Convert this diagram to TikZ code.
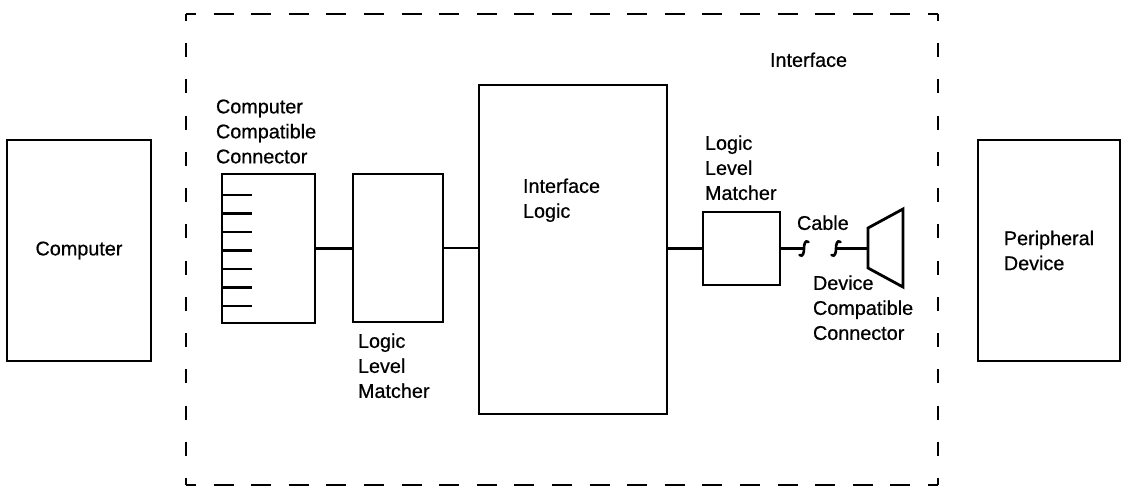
\documentclass[tikz,border=0pt]{standalone}
\usepackage{fontspec}
\setmainfont{Liberation Sans}
\newfontfamily\lblfont[FakeBold=0.6]{Liberation Sans}
\begin{document}
\begin{tikzpicture}[x=1pt,y=-1pt, line width=2.8pt, line join=miter,
  box/.style={draw, rectangle, inner sep=0pt, outer sep=0pt},
  lbl/.style={inner sep=0pt, outer sep=0pt, align=left, font=\lblfont\fontsize{19.8}{25}\selectfont},
  hdash/.style={dash pattern=on 20pt off 17.6pt, dash phase=10pt},
  vdash/.style={dash pattern=on 14pt off 22.23pt, dash phase=7pt},
  squig/.style={line width=2.6pt, line cap=round}]
\useasboundingbox (0,0) rectangle (1127,490);
% outer boxes
\node[box, lbl, minimum width=144pt, minimum height=221pt] (comp) at (79,250.5) {Computer};
\node[box, lbl, minimum width=142pt, minimum height=221pt] (periph) at (1049,250.5) {Peripheral\\Device};
% interface frame
\coordinate (fTL) at (186,14);
\coordinate (fTR) at (938,14);
\coordinate (fBL) at (186,485);
\coordinate (fBR) at (938,485);
\draw[hdash] (fTL) -- (fTR);
\draw[hdash] (fBL) -- (fBR);
\draw[vdash] (fTL) -- (fBL);
\draw[vdash] (fTR) -- (fBR);
\node[lbl, anchor=north west] (iflabel) at (770,52.5) {Interface};
% computer compatible connector
\node[box, minimum width=93pt, minimum height=149pt] (conn) at (268.5,248.5) {};
\foreach \k in {0,...,6} {
  \draw (conn.north west) ++(0,{21+18.5*\k}) -- ++(30,0);
}
\node[lbl, anchor=north west] (connlabel) at (216,99.5) {Computer\\Compatible\\Connector};
% logic level matcher 1
\node[box, minimum width=90pt, minimum height=148pt] (llm1) at (398,248) {};
\node[lbl, anchor=north west] (llm1label) at (358,333.5) {Logic\\Level\\Matcher};
% interface logic
\node[box, minimum width=188pt, minimum height=329pt] (ilogic) at (573,249.5) {};
\node[lbl, anchor=north west] (iloglabel) at (523,178.5) {Interface\\Logic};
% logic level matcher 2
\node[box, minimum width=77pt, minimum height=73pt] (llm2) at (741.5,248.5) {};
\node[lbl, anchor=north west] (llm2label) at (705,135.5) {Logic\\Level\\Matcher};
% wires
\draw (conn.east) -- (conn.east -| llm1.west);
\draw (llm1.east) -- (llm1.east -| ilogic.west);
\draw (ilogic.east |- llm2.west) -- (llm2.west);
% cable
\coordinate (c1) at (804,248.5);
\coordinate (c2) at (836,248.5);
\draw (llm2.east) -- (c1);
\draw[squig, shift={(c1)}] (4.5,-6.5) .. controls (1,-9) and (0,-4) .. (0,0) .. controls (0,4) and (-1,9) .. (-4.5,6.5);
\draw[squig, shift={(c2)}] (4.5,-6.5) .. controls (1,-9) and (0,-4) .. (0,0) .. controls (0,4) and (-1,9) .. (-4.5,6.5);
\node[lbl, anchor=north west] (cablelabel) at (797,215.5) {Cable};
% device compatible connector
\coordinate (tA) at (868,228);
\coordinate (tB) at (903,209);
\coordinate (tC) at (903,287);
\coordinate (tD) at (868,268);
\coordinate (tM) at (868,248.5);
\draw (tA) -- (tB) -- (tC) -- (tD) -- cycle;
\draw (c2) -- (tM);
\node[lbl, anchor=north west] (dcclabel) at (813,275.5) {Device\\Compatible\\Connector};
\end{tikzpicture}
\end{document}
